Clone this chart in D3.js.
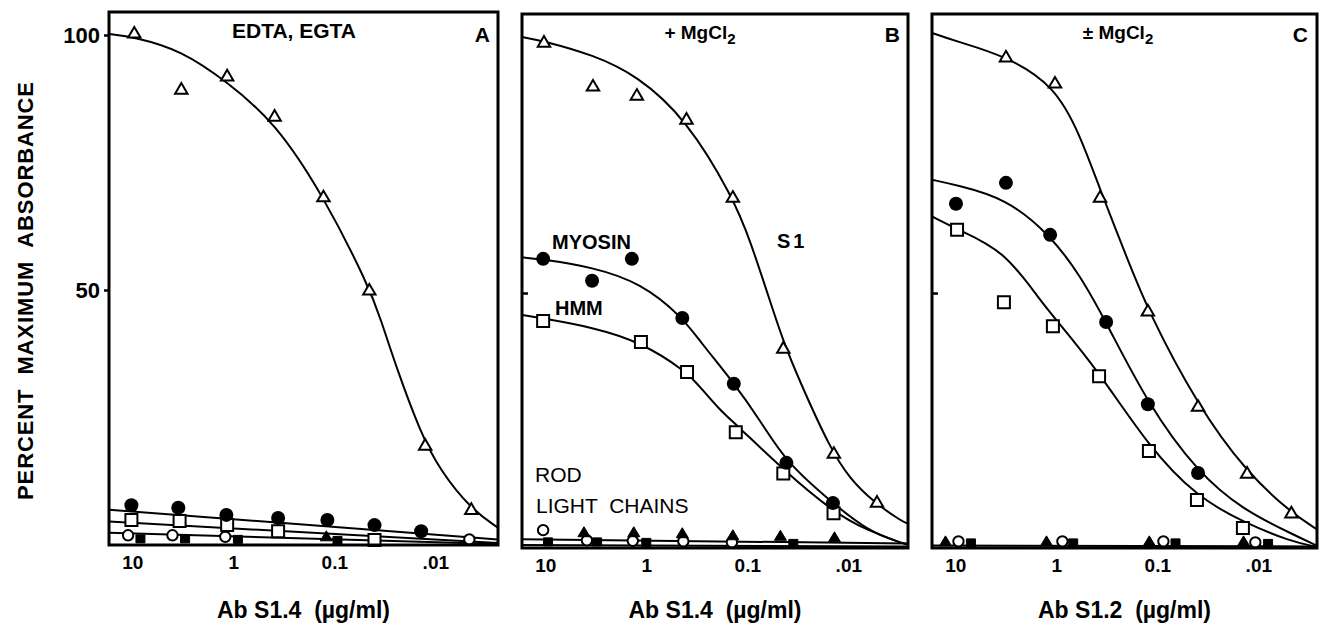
<!DOCTYPE html>
<html>
<head>
<meta charset="utf-8">
<script src="https://cdn.jsdelivr.net/npm/d3@7"></script>
<style>
    body { margin: 0; background: #fff; }
    svg { display: block; }
    text { font-family: 'Liberation Sans', Arial, Helvetica, sans-serif; font-weight: bold; fill: #000; }
</style>
</head>
<body>
<script>
const xTickValues = [10, 1, 0.1, 0.01];
const xTickLabels = ['10', '1', '0.1', '.01'];
const yTickValues = [100, 50];
const xTitles = ['Ab S1.4  (\u00b5g/ml)', 'Ab S1.4  (\u00b5g/ml)', 'Ab S1.2  (\u00b5g/ml)'];
const yTitle = 'PERCENT  MAXIMUM  ABSORBANCE';

// panel A: EDTA, EGTA  ([concentration ug/ml, percent])
const aS1 = [[9.55, 100.4], [3.27, 89.4], [1.15, 92], [0.39, 84.1], [0.128, 68.3], [0.045, 50], [0.0126, 19.6], [0.0044, 7]];
const aS1Fit = [[17, 100.2], [9.55, 99.6], [3.27, 97], [1.15, 90.8], [0.39, 83], [0.128, 68.5], [0.045, 50.5], [0.035, 44.5], [0.024, 34.5], [0.014, 22], [0.0089, 14.5], [0.0044, 7], [0.0024, 3.4]];
const aMyosin = [[10.2, 7.8], [3.5, 7.3], [1.17, 5.9], [0.36, 5.3], [0.117, 4.9], [0.04, 3.9], [0.0138, 2.7]];
const aMyosinFit = [[17, 6.9], [0.0024, 1.1]];
const aHmm = [[10.2, 4.9], [3.4, 4.7], [1.15, 3.9], [0.36, 2.7], [0.04, 1.0]];
const aHmmFit = [[17, 4.6], [0.0024, 0.4]];
const aRod = [[11, 1.9], [4, 1.9], [1.2, 1.6], [0.0046, 1.1]];
const aRodFit = [[17, 2.4], [0.0024, 0.2]];
const aLightChains = [[0.12, 1.7]];
const aOther = [[8.3, 1.2], [3.0, 1.2], [0.9, 1.1], [0.093, 0.9]];

// panel B: + MgCl2
const bS1 = [[10.3, 99.2], [3.37, 90.6], [1.24, 88.8], [0.40, 84.1], [0.139, 68.8], [0.044, 39.2], [0.0139, 18.6], [0.0052, 9.0]];
const bS1Fit = [[17, 100.2], [10.3, 99.4], [3.37, 96.7], [1.24, 92.7], [0.40, 84.1], [0.139, 68.8], [0.094, 60.4], [0.06, 48.6], [0.044, 40.5], [0.030, 32.5], [0.0151, 19.5], [0.0096, 13.5], [0.0056, 9], [0.0029, 5.1], [0.0025, 4.7]];
const bMyosin = [[10.5, 56.7], [3.44, 52.4], [1.39, 56.7], [0.44, 45.1], [0.136, 32.2], [0.041, 16.7], [0.0142, 8.8]];
const bMyosinFit = [[17, 57], [10.5, 56.6], [3.44, 55.1], [1.13, 52], [0.44, 45.3], [0.294, 40.5], [0.136, 32.4], [0.075, 25.1], [0.041, 16.7], [0.0142, 8.8], [0.0066, 3.5], [0.003, 1], [0.0025, 0.6]];
const bHmm = [[10.5, 44.5], [1.13, 40.4], [0.395, 34.5], [0.13, 22.7], [0.044, 14.6], [0.014, 6.8]];
const bHmmFit = [[17, 45.7], [10.5, 45], [3.44, 43.3], [1.13, 40.4], [0.395, 34.5], [0.294, 31.6], [0.186, 27], [0.13, 24.3], [0.044, 15.3], [0.0142, 7.1], [0.0066, 3.5], [0.003, 1], [0.0025, 0.6]];
const bRod = [[10.5, 3.5], [3.87, 1.5], [1.36, 1.4], [0.43, 1.3], [0.142, 1.1]];
const bRodFit = [[17, 1.7], [0.0025, 0.9]];
const bLightChains = [[4.14, 3.1], [1.33, 3.1], [0.44, 2.9], [0.139, 2.5], [0.047, 2.4], [0.0137, 2.1]];
const bLightChainsFit = [[17, 0.6], [0.0025, 0.3]];
const bOther = [[9.4, 1.2], [3.07, 1.2], [1.0, 1.1], [0.035, 0.9]];

// panel C: +/- MgCl2
const cS1 = [[3.15, 96.3], [1.03, 91.2], [0.369, 68.8], [0.124, 46.5], [0.0395, 27.8], [0.0129, 14.7], [0.0047, 6.9]];
const cS1Fit = [[17, 101], [10, 99.4], [3.15, 96.5], [1.03, 90.6], [0.582, 81], [0.369, 70.3], [0.208, 57.8], [0.124, 46.5], [0.0395, 27.8], [0.0129, 14.7], [0.0047, 6.9], [0.0026, 3.6]];
const cMyosin = [[9.84, 67.5], [3.15, 71.6], [1.15, 61.4], [0.321, 44.3], [0.124, 28.2], [0.0395, 14.7]];
const cMyosinFit = [[17, 72.2], [9.84, 71.2], [3.15, 68.6], [1.15, 61.4], [0.582, 53.5], [0.321, 44.3], [0.124, 28.2], [0.0395, 14.7], [0.0142, 7.5], [0.0047, 2.8], [0.0026, 0.4]];
const cHmm = [[9.6, 62.4], [3.3, 48.2], [1.08, 43.5], [0.377, 33.7], [0.121, 19.0], [0.0405, 9.4], [0.0142, 3.9]];
const cHmmFit = [[17, 65], [9.6, 62.5], [3.3, 58.4], [1.45, 48.6], [1.0, 44.7], [0.377, 34.5], [0.121, 19.8], [0.0405, 10], [0.0142, 5.1], [0.0047, 1.2], [0.0026, 0.2]];
const cRod = [[9.3, 1.3], [0.87, 1.3], [0.087, 1.3], [0.0107, 1.1]];
const cLightChains = [[12.5, 1.3], [1.25, 1.3], [0.12, 1.3], [0.014, 1.3]];
const cOther = [[7, 1.0], [0.68, 1.0], [0.066, 1.0], [0.008, 0.9]];
const cBaseFit = [[17, 0.5], [0.0026, 0.3]];

const width = 1320;
const height = 626;

const shapes = {
    triangleOpen: { d: 'M0,-6L6.2,4.6L-6.2,4.6Z', fill: '#fff', sw: 2 },
    triangleFilled: { d: 'M0,-5.5L6,4.5L-6,4.5Z', fill: '#000', sw: 1 },
    circleFilled: { d: d3.symbol(d3.symbolCircle).size(Math.PI * 49)(), fill: '#000', sw: 0 },
    circleOpen: { d: d3.symbol(d3.symbolCircle).size(Math.PI * 27)(), fill: '#fff', sw: 2 },
    squareOpen: { d: 'M-6,-6h12v12h-12Z', fill: '#fff', sw: 2 },
    squareFilled: { d: 'M-4.5,-4h9v8h-9Z', fill: '#000', sw: 1 }
};

const panels = [
    {
        left: 109, top: 12, bottom: 545, w: 389, yLabels: true,
        fits: [aS1Fit, aMyosinFit, aHmmFit, aRodFit],
        marks: [
            [aS1, 'triangleOpen'], [aRod, 'circleOpen'], [aLightChains, 'triangleFilled'],
            [aOther, 'squareFilled'], [aHmm, 'squareOpen'], [aMyosin, 'circleFilled']
        ],
        labels: [
            { t: 'EDTA, EGTA', x: 294, y: 38, a: 'middle', s: 21 },
            { t: 'A', x: 490, y: 42, a: 'end', s: 21 }
        ]
    },
    {
        left: 522, top: 14, bottom: 548, w: 386, yLabels: false,
        fits: [bS1Fit, bMyosinFit, bHmmFit, bRodFit, bLightChainsFit],
        marks: [
            [bS1, 'triangleOpen'], [bRod, 'circleOpen'], [bLightChains, 'triangleFilled'],
            [bOther, 'squareFilled'], [bHmm, 'squareOpen'], [bMyosin, 'circleFilled']
        ],
        labels: [
            { t: '+ MgCl', sub: '2', x: 700, y: 39, a: 'middle' },
            { t: 'B', x: 900, y: 42, a: 'end', s: 21 },
            { t: 'MYOSIN', x: 552, y: 249, a: 'start', s: 20 },
            { t: 'S1', x: 777, y: 248, a: 'start', s: 20, ls: 3 },
            { t: 'HMM', x: 555, y: 315, a: 'start', s: 20 },
            { t: 'ROD', x: 535, y: 482, a: 'start', s: 21, n: true },
            { t: 'LIGHT  CHAINS', x: 536, y: 513, a: 'start', s: 21, n: true }
        ]
    },
    {
        left: 932, top: 14, bottom: 548, w: 385, yLabels: false,
        fits: [cS1Fit, cMyosinFit, cHmmFit, cBaseFit],
        marks: [
            [cS1, 'triangleOpen'], [cLightChains, 'triangleFilled'], [cOther, 'squareFilled'],
            [cRod, 'circleOpen'], [cHmm, 'squareOpen'], [cMyosin, 'circleFilled']
        ],
        labels: [
            { t: '\u00b1 MgCl', sub: '2', x: 1118, y: 39, a: 'middle' },
            { t: 'C', x: 1308, y: 42, a: 'end', s: 21 }
        ]
    }
];

const x = d3.scaleLog()
    .domain([17, 0.00245])
    .range([0, 388]);

const svg = d3.select('body')
    .append('svg')
    .attr('width', width)
    .attr('height', height);

panels.forEach((p, i) => {
    const y = d3.scaleLinear()
        .domain([0, 100])
        .range([p.bottom, p.bottom - 510]);

    const line = d3.line()
        .x(d => x(d[0]))
        .y(d => y(d[1]))
        .curve(d3.curveBasis);

    const g = svg.append('g')
        .attr('transform', `translate(${p.left},0)`);

    g.append('clipPath')
        .attr('id', `clip${i}`)
        .append('rect')
        .attr('x', 0)
        .attr('y', p.top)
        .attr('width', p.w)
        .attr('height', p.bottom - p.top);

    g.append('g')
        .attr('clip-path', `url(#clip${i})`)
        .selectAll('path')
        .data(p.fits)
        .join('path')
        .attr('d', line)
        .attr('fill', 'none')
        .attr('stroke', '#000')
        .attr('stroke-width', 2);

    p.marks.forEach(([data, shape]) => {
        const s = shapes[shape];
        g.append('g')
            .selectAll('path')
            .data(data)
            .join('path')
            .attr('d', s.d)
            .attr('transform', d => `translate(${x(d[0])},${y(d[1])})`)
            .attr('fill', s.fill)
            .attr('stroke', '#000')
            .attr('stroke-width', s.sw);
    });

    g.append('rect')
        .attr('x', 0)
        .attr('y', p.top)
        .attr('width', p.w)
        .attr('height', p.bottom - p.top)
        .attr('fill', 'none')
        .attr('stroke', '#000')
        .attr('stroke-width', 3);

    // x tick labels only, no tick marks
    const xAxis = g.append('g')
        .attr('transform', `translate(0,${p.bottom})`)
        .call(d3.axisBottom(x)
            .tickValues(xTickValues)
            .tickFormat((d, j) => xTickLabels[j])
            .tickSize(0)
            .tickPadding(11));
    xAxis.select('.domain').remove();
    xAxis.selectAll('text')
        .style('font-size', '19px')
        .style('font-family', null);

    if (p.yLabels) {
        const yAxis = g.append('g')
            .call(d3.axisLeft(y)
                .tickValues(yTickValues)
                .tickSize(5)
                .tickPadding(4));
        yAxis.select('.domain').remove();
        yAxis.selectAll('line').attr('stroke-width', 2.5);
        yAxis.selectAll('text')
            .style('font-size', '22px')
            .style('font-family', null);
    } else {
        const yAxis = g.append('g')
            .call(d3.axisRight(y)
                .tickValues([50])
                .tickSize(6)
                .tickFormat(''));
        yAxis.select('.domain').remove();
        yAxis.selectAll('line').attr('stroke-width', 2.5);
    }

    p.labels.forEach(l => {
        const t = svg.append('text')
            .attr('x', l.x)
            .attr('y', l.y)
            .attr('text-anchor', l.a)
            .style('font-size', `${l.s || 19}px`)
            .style('font-weight', l.n ? 'normal' : 'bold')
            .style('letter-spacing', l.ls ? `${l.ls}px` : null)
            .style('white-space', 'pre')
            .text(l.t);
        if (l.sub) {
            t.append('tspan')
                .attr('dy', 5)
                .style('font-size', '15px')
                .text(l.sub);
        }
    });

    svg.append('text')
        .attr('x', p.left + p.w / 2)
        .attr('y', 618)
        .attr('text-anchor', 'middle')
        .style('font-size', '23px')
        .style('white-space', 'pre')
        .text(xTitles[i]);
});

svg.append('text')
    .attr('transform', 'translate(33,291) rotate(-90)')
    .attr('text-anchor', 'middle')
    .attr('textLength', 418)
    .attr('lengthAdjust', 'spacing')
    .style('font-size', '22px')
    .style('white-space', 'pre')
    .text(yTitle);
</script>
</body>
</html>
